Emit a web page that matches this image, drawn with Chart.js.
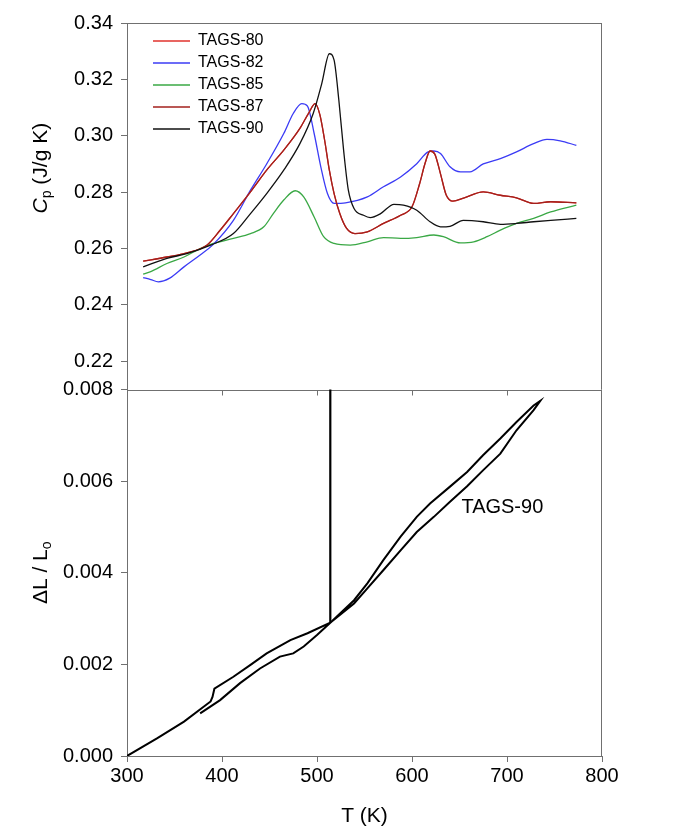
<!DOCTYPE html>
<html>
<head>
<meta charset="utf-8">
<script src="https://cdn.jsdelivr.net/npm/chart.js@4.4.0/dist/chart.umd.min.js"></script>
<style>
  html, body { margin: 0; padding: 0; background: #fff; overflow: hidden; }
  canvas { display: block; }
</style>
</head>
<body>
<canvas id="chart" width="678" height="832"></canvas>
<script>
// Datos: Cp (J/g K) contra T (K)
const t80 = [317, 342, 363, 384, 398, 412, 430, 447, 465, 482, 492, 498, 503, 508, 513, 518, 524, 531, 540, 553, 570, 588, 600, 608, 614, 619, 624, 630, 636, 643, 655, 675, 693, 710, 728, 746, 773];
const cp80 = [0.2555, 0.257, 0.2585, 0.2612, 0.2665, 0.2724, 0.2801, 0.2878, 0.2949, 0.3026, 0.3085, 0.3114, 0.3075, 0.2985, 0.2878, 0.2795, 0.2724, 0.2672, 0.2653, 0.2659, 0.2689, 0.2718, 0.2748, 0.283, 0.2905, 0.2946, 0.2935, 0.2865, 0.279, 0.2768, 0.278, 0.2801, 0.2789, 0.278, 0.276, 0.2766, 0.2762];

const t82 = [317, 325, 333, 345, 360, 377, 390, 412, 430, 447, 465, 475, 484, 490, 497, 504, 511, 518, 530, 553, 570, 588, 605, 617, 623, 630, 640, 651, 661, 675, 693, 710, 728, 742, 756, 773];
const cp82 = [0.2497, 0.249, 0.2482, 0.2495, 0.2535, 0.2577, 0.2612, 0.27, 0.2807, 0.29, 0.3008, 0.3079, 0.3114, 0.3105, 0.3008, 0.289, 0.2795, 0.276, 0.2762, 0.2783, 0.2819, 0.2854, 0.2901, 0.2943, 0.2946, 0.2937, 0.289, 0.2872, 0.2872, 0.29, 0.2919, 0.2943, 0.2972, 0.2987, 0.2982, 0.2966];

const t85 = [317, 325, 342, 360, 377, 391, 412, 430, 444, 454, 465, 477, 486, 497, 507, 518, 535, 553, 570, 588, 605, 623, 633, 651, 665, 679, 693, 710, 728, 746, 773];
const cp85 = [0.2509, 0.2518, 0.2547, 0.257, 0.26, 0.2618, 0.2636, 0.2653, 0.2677, 0.2724, 0.2772, 0.2805, 0.2783, 0.2712, 0.2642, 0.2618, 0.2612, 0.2624, 0.2639, 0.2636, 0.2639, 0.2648, 0.2642, 0.262, 0.2624, 0.2642, 0.2665, 0.2689, 0.2707, 0.273, 0.2754];

const t87 = [317, 342, 363, 384, 398, 412, 430, 447, 465, 482, 492, 498, 503, 508, 513, 518, 524, 531, 540, 553, 570, 588, 600, 608, 614, 619, 624, 630, 636, 643, 655, 675, 693, 710, 728, 746, 773];
const cp87 = [0.2555, 0.257, 0.2585, 0.2612, 0.2665, 0.2724, 0.2801, 0.2878, 0.2949, 0.3026, 0.3085, 0.3114, 0.3075, 0.2985, 0.2878, 0.2795, 0.2724, 0.2672, 0.2653, 0.2659, 0.2689, 0.2718, 0.2748, 0.283, 0.2905, 0.2946, 0.2935, 0.2865, 0.279, 0.2768, 0.278, 0.2801, 0.2789, 0.278, 0.276, 0.2766, 0.2762];

const t90 = [317, 342, 363, 388, 412, 430, 447, 465, 482, 496, 505, 513, 518, 523, 528, 533, 539, 549, 556, 567, 581, 591, 605, 619, 630, 640, 654, 675, 693, 710, 728, 746, 773];
const cp90 = [0.2535, 0.2565, 0.2582, 0.2612, 0.2653, 0.2724, 0.2795, 0.2878, 0.2972, 0.3079, 0.3185, 0.3291, 0.3268, 0.3126, 0.2949, 0.2807, 0.2742, 0.2718, 0.271, 0.2724, 0.2757, 0.2754, 0.2736, 0.2695, 0.2677, 0.2679, 0.27, 0.2695, 0.2686, 0.2689, 0.2695, 0.27, 0.2707];

// Dilatometría TAGS-90: ΔL/Lo contra T (K)
const dlT = [300, 332, 360, 388, 390, 392, 412, 430, 447, 472, 490, 514,
             539, 553, 570, 588, 605, 623, 640, 658, 675, 693, 710, 728, 735,
             728, 710, 693, 675, 658, 640, 619, 605, 588, 570, 553, 539, 514,
             500, 486, 475, 461, 440, 419, 398, 377];
const dlV = [0, 0.00039, 0.00075, 0.00119, 0.00129, 0.00147, 0.00173, 0.00199, 0.00224, 0.00253, 0.00268, 0.00291,
             0.00333, 0.00366, 0.00406, 0.00449, 0.00489, 0.00522, 0.00555, 0.00589, 0.00624, 0.0066, 0.00711, 0.00755, 0.00775,
             0.00765, 0.00729, 0.00693, 0.00657, 0.0062, 0.00588, 0.00551, 0.00522, 0.00479, 0.00428, 0.00377, 0.0034, 0.00291,
             0.00264, 0.00239, 0.00224, 0.00217, 0.00191, 0.00159, 0.00122, 0.00093];
// salto vertical a 514 K que sube hasta el pico de Cp
const jumpT = [514, 514];
const jumpV = [0.00291, 0.01532];

// Marcas de los ejes
const xTicks = [300, 400, 500, 600, 700, 800];
const cpTicks = [0.22, 0.24, 0.26, 0.28, 0.30, 0.32, 0.34];
const dlTicks = [0.000, 0.002, 0.004, 0.006, 0.008];

const axisColor = '#707070';
const fontFamily = '"Liberation Sans", Arial, Helvetica, sans-serif';
Chart.defaults.font.family = fontFamily;
Chart.defaults.color = '#000';

function pts(xs, ys) {
    return xs.map((x, i) => ({ x: x, y: ys[i] }));
}

function cpSet(label, xs, ys, color, order) {
    return {
        label: label,
        data: pts(xs, ys),
        yAxisID: 'cp',
        borderColor: color,
        backgroundColor: color,
        borderWidth: 1.3,
        pointRadius: 0,
        showLine: true,
        cubicInterpolationMode: 'monotone',
        order: order
    };
}

// Bordes de los paneles y la línea divisoria con sus marcas
const framePlugin = {
    id: 'frame',
    beforeDatasetsDraw(chart) {
        const { ctx, chartArea: a, scales } = chart;
        const yb = Math.round(scales.dl.top) + 0.5;
        ctx.save();
        ctx.strokeStyle = axisColor;
        ctx.lineWidth = 1;
        ctx.beginPath();
        ctx.moveTo(a.left, a.top + 0.5);
        ctx.lineTo(a.right, a.top + 0.5);
        ctx.moveTo(a.right - 0.5, a.top);
        ctx.lineTo(a.right - 0.5, a.bottom);
        ctx.moveTo(a.left, yb);
        ctx.lineTo(a.right, yb);
        xTicks.slice(1, -1).forEach(t => {
            const px = Math.round(scales.x.getPixelForValue(t)) + 0.5;
            ctx.moveTo(px, yb);
            ctx.lineTo(px, yb + 5);
        });
        ctx.stroke();
        ctx.restore();
    }
};

// Títulos de los ejes Y (con subíndices) y la etiqueta TAGS-90
function drawRotated(ctx, cx, cy, parts) {
    ctx.save();
    ctx.translate(cx, cy);
    ctx.rotate(-Math.PI / 2);
    let total = 0;
    parts.forEach(p => { ctx.font = p.font; total += ctx.measureText(p.text).width; });
    let x = -total / 2;
    ctx.textBaseline = 'middle';
    ctx.textAlign = 'left';
    ctx.fillStyle = '#000';
    parts.forEach(p => {
        ctx.font = p.font;
        ctx.fillText(p.text, x, p.dy);
        x += ctx.measureText(p.text).width;
    });
    ctx.restore();
}

const titlesPlugin = {
    id: 'titles',
    afterDraw(chart) {
        const { ctx, scales } = chart;
        const cp = scales.cp, dl = scales.dl;
        drawRotated(ctx, 41, cp.top + 0.396 * (cp.bottom - cp.top), [
            { font: 'italic 21px ' + fontFamily, text: 'C', dy: 0 },
            { font: '14px ' + fontFamily, text: 'p', dy: 6 },
            { font: '21px ' + fontFamily, text: ' (J/g K)', dy: 0 }
        ]);
        drawRotated(ctx, 41, (dl.top + dl.bottom) / 2, [
            { font: '21px ' + fontFamily, text: 'ΔL / L', dy: 0 },
            { font: '14px ' + fontFamily, text: 'o', dy: 6 }
        ]);
        ctx.save();
        ctx.font = '20px ' + fontFamily;
        ctx.fillStyle = '#000';
        ctx.textBaseline = 'middle';
        ctx.fillText('TAGS-90', scales.x.getPixelForValue(652), dl.getPixelForValue(0.00543));
        ctx.restore();
    }
};

// Coloca la leyenda dentro del panel superior
const legendSpot = {
    id: 'legendSpot',
    afterLayout(chart) {
        const lg = chart.legend;
        if (!lg) return;
        lg.left = chart.chartArea.left + 20;
        lg.top = chart.chartArea.top + 4;
        lg.right = lg.left + 200;
        lg.bottom = lg.top + 300;
    }
};

const config = {
    type: 'scatter',
    data: {
        datasets: [
            cpSet('TAGS-80', t80, cp80, '#e0322c', 2),
            cpSet('TAGS-82', t82, cp82, '#3b3bf5', 2),
            cpSet('TAGS-85', t85, cp85, '#3aa845', 2),
            cpSet('TAGS-87', t87, cp87, '#a3201c', 1),
            cpSet('TAGS-90', t90, cp90, '#111111', 0),
            {
                label: 'dilatometry',
                data: pts(dlT, dlV),
                yAxisID: 'dl',
                borderColor: '#000',
                borderWidth: 2,
                pointRadius: 0,
                showLine: true,
                order: 0
            },
            {
                label: 'jump',
                data: pts(jumpT, jumpV),
                yAxisID: 'dl',
                borderColor: '#000',
                borderWidth: 2.2,
                pointRadius: 0,
                showLine: true,
                order: 0
            }
        ]
    },
    options: {
        responsive: false,
        animation: false,
        layout: { padding: { top: 23, right: 76, left: 0, bottom: 0 } },
        plugins: {
            tooltip: { enabled: false },
            legend: {
                position: 'chartArea',
                align: 'start',
                labels: {
                    usePointStyle: true,
                    pointStyle: 'line',
                    pointStyleWidth: 37,
                    padding: 6,
                    color: '#000',
                    font: { size: 16 },
                    filter: item => item.text.startsWith('TAGS'),
                    sort: (a, b) => a.datasetIndex - b.datasetIndex
                }
            }
        },
        scales: {
            x: {
                type: 'linear',
                position: 'bottom',
                min: 300,
                max: 800,
                afterBuildTicks: s => { s.ticks = xTicks.map(v => ({ value: v })); },
                afterFit: s => { s.height = 76; },
                ticks: { font: { size: 20 }, color: '#000', padding: 2 },
                grid: { drawOnChartArea: false, tickLength: 6, color: axisColor },
                border: { color: axisColor },
                title: { display: true, text: 'T (K)', font: { size: 21 }, color: '#000', padding: { top: 0, bottom: 3 } }
            },
            dl: {
                type: 'linear',
                position: 'left',
                stack: 'panels',
                stackWeight: 1,
                weight: 0,
                min: 0,
                max: 0.008,
                afterBuildTicks: s => { s.ticks = dlTicks.map(v => ({ value: v })); },
                afterFit: s => { s.width = 127; },
                ticks: { font: { size: 20 }, color: '#000', padding: 8, callback: v => v.toFixed(3) },
                grid: { drawOnChartArea: false, tickLength: 6, color: axisColor },
                border: { color: axisColor }
            },
            cp: {
                type: 'linear',
                position: 'left',
                stack: 'panels',
                stackWeight: 1,
                weight: 1,
                min: 0.21,
                max: 0.34,
                afterBuildTicks: s => { s.ticks = cpTicks.map(v => ({ value: v })); },
                afterFit: s => { s.width = 127; },
                ticks: { font: { size: 20 }, color: '#000', padding: 8, callback: v => v.toFixed(2) },
                grid: { drawOnChartArea: false, tickLength: 6, color: axisColor },
                border: { color: axisColor }
            }
        }
    },
    plugins: [framePlugin, titlesPlugin, legendSpot]
};

new Chart(document.getElementById('chart').getContext('2d'), config);
</script>
</body>
</html>
